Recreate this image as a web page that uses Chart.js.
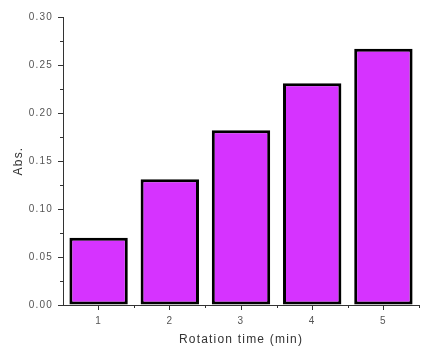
<!DOCTYPE html>
<html>
<head>
<meta charset="utf-8">
<script src="https://cdn.jsdelivr.net/npm/chart.js@4"></script>
<style>
  html, body { margin: 0; padding: 0; background: #fff; }
  #wrap { width: 423px; height: 349px; }
</style>
</head>
<body>
<div id="wrap"><canvas id="grafica"></canvas></div>
<script>
// datos
var categorias = ['1', '2', '3', '4', '5'];
var absorbancia = [0.070, 0.131, 0.182, 0.231, 0.267];
var yTicks = [0, 0.05, 0.10, 0.15, 0.20, 0.25, 0.30];

var fuente = "'Liberation Sans', Arial, sans-serif";
var grisTexto = '#555';

// ticks menores en ambos ejes
var ticksMenores = {
    id: 'ticksMenores',
    afterDraw: function(chart) {
        var ctx = chart.ctx;
        var x = chart.scales.x, y = chart.scales.y;
        ctx.save();
        ctx.strokeStyle = '#333';
        ctx.lineWidth = 1;
        ctx.beginPath();
        for (var i = 0; i < yTicks.length - 1; i++) {
            var py = Math.round(y.getPixelForValue((yTicks[i] + yTicks[i + 1]) / 2)) + 0.5;
            ctx.moveTo(x.left - 3, py);
            ctx.lineTo(x.left, py);
        }
        for (var j = 0; j < categorias.length; j++) {
            var px = Math.round(x.getPixelForValue(j) + (x.getPixelForValue(1) - x.getPixelForValue(0)) / 2) + 0.5;
            ctx.moveTo(px, y.bottom);
            ctx.lineTo(px, y.bottom + 3);
        }
        ctx.stroke();
        ctx.restore();
    }
};

var espaciado = {
    id: 'espaciado',
    beforeDraw: function(chart) { chart.ctx.letterSpacing = '1.2px'; },
    afterDraw: function(chart) { chart.ctx.letterSpacing = '0px'; }
};

window.onload = function() {
    var ctx = document.getElementById('grafica').getContext('2d');
    window.myBar = new Chart(ctx, {
        type: 'bar',
        data: {
            labels: categorias,
            datasets: [{
                label: 'Abs.',
                data: absorbancia,
                backgroundColor: '#D633FF',
                borderColor: '#000',
                borderWidth: 3,
                borderSkipped: false,
                categoryPercentage: 1,
                barPercentage: 0.82
            }]
        },
        options: {
            responsive: true,
            maintainAspectRatio: false,
            animation: false,
            layout: { padding: { top: 17, right: 4, left: 11, bottom: 2 } },
            plugins: {
                legend: { display: false },
                tooltip: { enabled: false }
            },
            scales: {
                x: {
                    offset: true,
                    grid: { display: true, drawOnChartArea: false, drawTicks: true, tickLength: 5, color: '#333', offset: false },
                    border: { color: '#333', width: 1 },
                    ticks: { color: grisTexto, font: { family: fuente, size: 10 }, padding: 5, maxRotation: 0 },
                    title: { display: true, text: 'Rotation time (min)', color: '#333', font: { family: fuente, size: 12 }, padding: { top: 3, bottom: 0 } },
                    afterFit: function(s) { s.height = 42; }
                },
                y: {
                    min: 0,
                    max: 0.30,
                    grid: { display: true, drawOnChartArea: false, drawTicks: true, tickLength: 5, color: '#333' },
                    border: { color: '#333', width: 1 },
                    ticks: {
                        stepSize: 0.05,
                        color: grisTexto,
                        font: { family: fuente, size: 10 },
                        padding: 5,
                        callback: function(v) { return v.toFixed(2); }
                    },
                    title: { display: true, text: 'Abs.', color: '#333', font: { family: fuente, size: 12 }, padding: { top: 0, bottom: 10 } },
                    afterFit: function(s) { s.width = 52; }
                }
            }
        },
        plugins: [ticksMenores, espaciado]
    });
};
</script>
</body>
</html>
